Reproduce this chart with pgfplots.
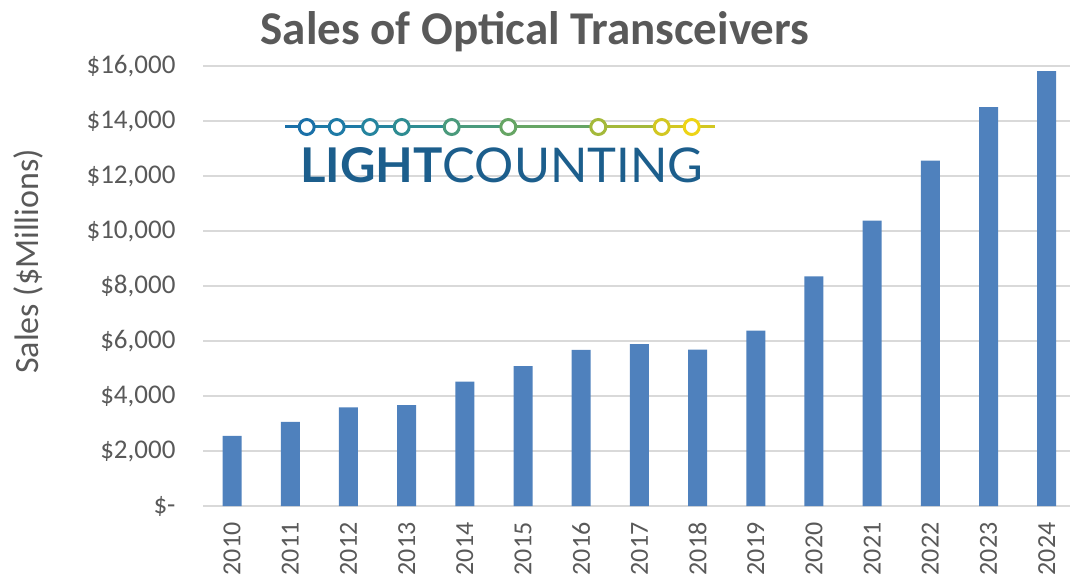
\documentclass[border=0pt]{standalone}
\usepackage{pgfplots}
\pgfplotsset{compat=1.18}
\usepackage{fontspec}
\setmainfont{Carlito}
\newfontfamily\logofont{Lato}
\definecolor{barblue}{HTML}{4F81BD}
\definecolor{textgray}{HTML}{595959}
\definecolor{gridgray}{HTML}{D9D9D9}
\definecolor{logoblue}{HTML}{1C5E8C}
\definecolor{c1}{HTML}{1A70A8}
\definecolor{c2}{HTML}{1E7AA6}
\definecolor{c3}{HTML}{25849E}
\definecolor{c4}{HTML}{2E8C92}
\definecolor{c5}{HTML}{4A9A7C}
\definecolor{c6}{HTML}{66A564}
\definecolor{c7}{HTML}{A4B93A}
\definecolor{c8}{HTML}{D2C722}
\definecolor{c9}{HTML}{EDD416}
\begin{document}
\begin{tikzpicture}[x=1pt,y=1pt]
\path[use as bounding box] (0,0) rectangle (1070,584);
\begin{axis}[
  at={(203pt,78pt)}, anchor=south west,
  scale only axis, width=867pt, height=440pt,
  ybar, bar width=19pt,
  xmin=-0.5, xmax=14.4, ymin=0, ymax=16000,
  scaled y ticks=false,
  xtick={0,...,14},
  xticklabels={2010,2011,2012,2013,2014,2015,2016,2017,2018,2019,2020,2021,2022,2023,2024},
  ytick={0,2000,4000,6000,8000,10000,12000,14000,16000},
  yticklabels={{\$-},{\$2,000},{\$4,000},{\$6,000},{\$8,000},{\$10,000},{\$12,000},{\$14,000},{\$16,000}},
  ymajorgrids, grid style={draw=gridgray, line width=1.5pt},
  axis line style={draw=none},
  major tick length=0pt,
  yticklabel style={font=\fontsize{27}{30}\selectfont, text=textgray, xshift=-24pt},
  xticklabel style={font=\fontsize{26}{30}\selectfont, text=textgray, yshift=-13pt, rotate=90, anchor=east},
  ylabel={Sales (\$Millions)},
  ylabel style={at={(axis description cs:-0.2018,0.556)}, anchor=center, font=\fontsize{34}{38}\selectfont, text=textgray},
  clip=false,
]
\addplot[fill=barblue, draw=none] coordinates {
(0,2550) (1,3060) (2,3590) (3,3670) (4,4520) (5,5090) (6,5680) (7,5890) (8,5690) (9,6380) (10,8350) (11,10380) (12,12560) (13,14500) (14,15810)
};
\end{axis}
% title
\node[anchor=base, text=textgray, font=\fontsize{47}{50}\selectfont\bfseries, inner sep=0] at (535,539) {Sales of Optical Transceivers};
% logo
\draw[line width=3pt, c1] (285,457) -- (306.7,457);
\draw[line width=3pt, c2] (306.7,457) -- (370,457);
\draw[line width=3pt, c3] (370,457) -- (401.7,457);
\draw[line width=3pt, c4] (401.7,457) -- (451.7,457);
\draw[line width=3pt, c5] (451.7,457) -- (508.3,457);
\draw[line width=3pt, c6] (508.3,457) -- (598.3,457);
\draw[line width=3pt, c7] (598.3,457) -- (661.7,457);
\draw[line width=3pt, c8] (661.7,457) -- (715,457);
\foreach \xx/\cc in {306.7/c1,336.7/c2,370/c3,401.7/c4,451.7/c5,508.3/c6,598.3/c7,661.7/c8,691.7/c9}{
  \draw[line width=3pt, \cc, fill=white] (\xx,457) circle (7.5);
}
\node[anchor=south west, inner sep=0, text=logoblue] at (300,401) {\resizebox{403pt}{35pt}{\logofont\bfseries LIGHT\mdseries COUNTING}};
\end{tikzpicture}
\end{document}
